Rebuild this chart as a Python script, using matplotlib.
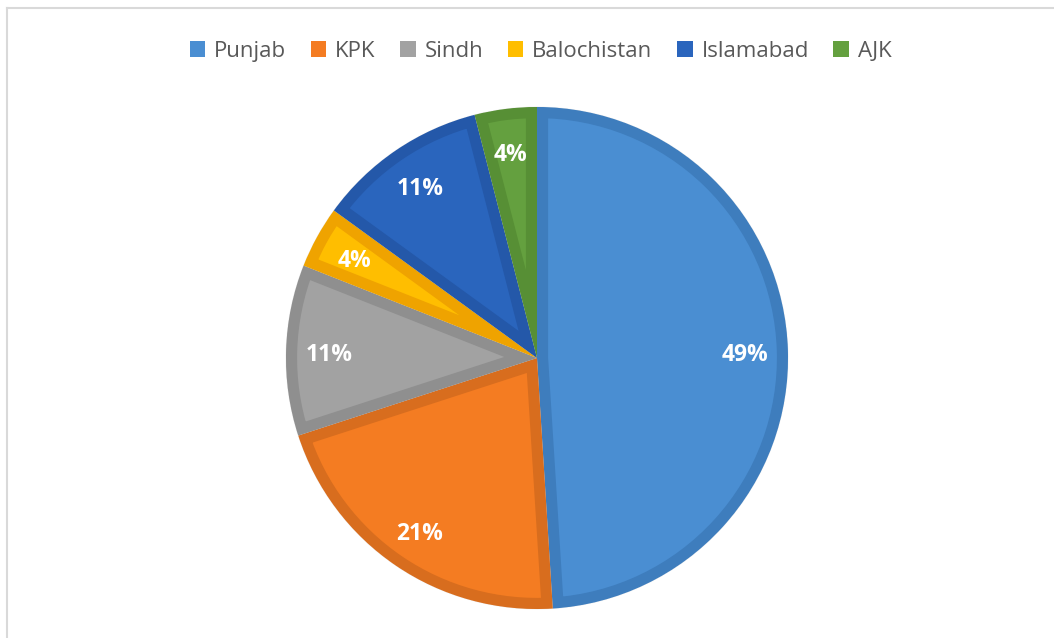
import matplotlib.pyplot as plt
from matplotlib.patches import Wedge
from matplotlib.lines import Line2D

# data
labels = ['Punjab', 'KPK', 'Sindh', 'Balochistan', 'Islamabad', 'AJK']
shares = [49, 21, 11, 4, 11, 4]

# fill and edge colours per slice
fills = ['#4A8ED2', '#F47C22', '#A2A2A2', '#FFBE00', '#2A65BD', '#64A03F']
edges = ['#3E7DBD', '#D86D1E', '#8F8F8F', '#EFA300', '#2458A9', '#578F35']

W, H = 1054, 638
cx, cy, r = 537, 358, 251

fig = plt.figure(figsize=(W / 100, H / 100), dpi=100)
ax = fig.add_axes([(cx - r) / W, (H - cy - r) / H, 2 * r / W, 2 * r / H])

wedges, texts, autotexts = ax.pie(
    shares, colors=fills, startangle=90, counterclock=False,
    autopct='%1.0f%%', pctdistance=0.83,
    wedgeprops=dict(linewidth=0.6, edgecolor='#EDEDED'),
    textprops=dict(color='white', fontsize=16.5, fontweight='bold',
                   family='Open Sans'))
ax.set_xlim(-1, 1)
ax.set_ylim(-1, 1)

# thick inner border: stroke clipped to the wedge itself
for w, ec in zip(wedges, edges):
    border = Wedge(w.center, w.r, w.theta1, w.theta2,
                   fill=False, edgecolor=ec, linewidth=16)
    ax.add_patch(border)
    border.set_clip_path(w)
for t in autotexts:
    t.set_zorder(5)
    x, y = t.get_position()
    t.set_position((x, y - 0.015))

handles = [plt.Rectangle((0, 0), 1, 1, facecolor=f, edgecolor='none') for f in fills]
fig.legend(handles, labels, loc='upper center', bbox_to_anchor=(0.513, 0.967),
           ncol=6, frameon=False, prop=dict(family='Open Sans', size=16),
           handlelength=0.7, handleheight=0.7,
           handletextpad=0.4, columnspacing=1.1, labelcolor='#595959')

# light frame lines at top and left
fig.add_artist(Line2D([7 / W, 1], [1 - 8 / H, 1 - 8 / H], color='#D9D9D9', lw=1.5))
fig.add_artist(Line2D([7 / W, 7 / W], [0, 1 - 8 / H], color='#D9D9D9', lw=1.5))

fig.savefig('out.png', dpi=100)
